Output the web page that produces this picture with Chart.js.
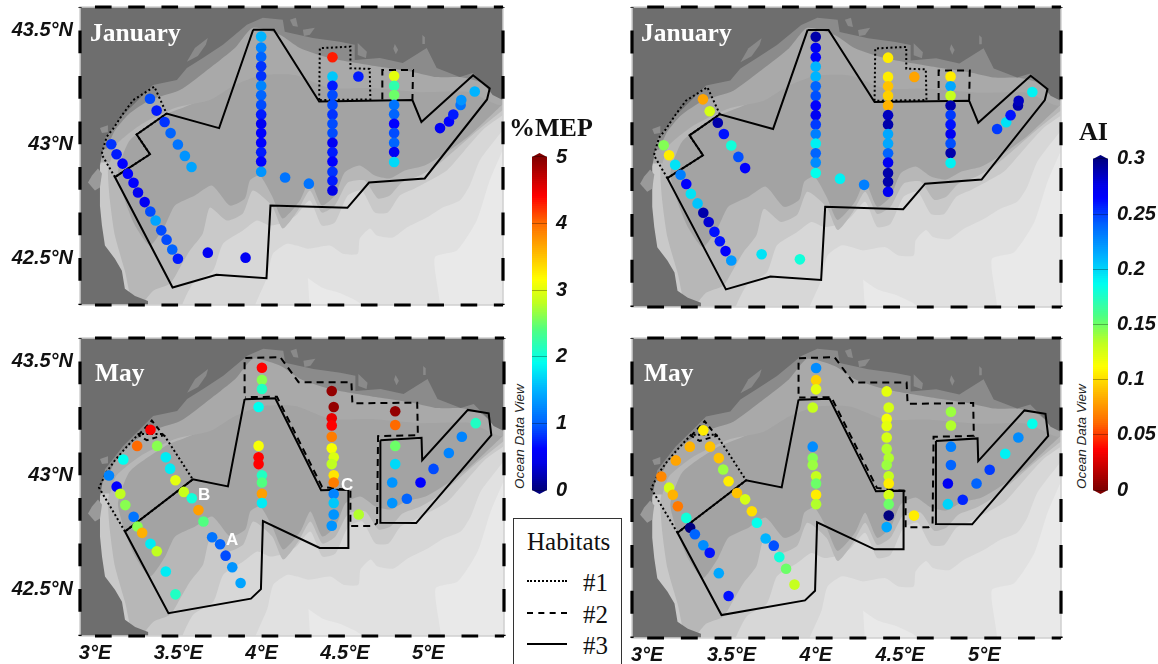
<!DOCTYPE html>
<html>
<head>
<meta charset="utf-8">
<script src="https://cdn.jsdelivr.net/npm/chart.js@4"></script>
<style>
html,body{margin:0;padding:0;background:#fff;width:1158px;height:664px;overflow:hidden}
canvas{position:absolute}
.t{position:absolute;white-space:nowrap;line-height:1}
.m{font:bold 25.5px "Liberation Serif",serif;color:#fff}
.h{font:bold 26px "Liberation Serif",serif;color:#111}
.l{font:bold 17px "Liberation Sans",sans-serif;color:#fff}
.o{font:italic 13.5px "Liberation Sans",sans-serif;color:#222;transform-origin:0 0;transform:rotate(-90deg)}
#box{position:absolute;left:513px;top:518px;width:109px;height:150px;border:1.5px solid #333;box-sizing:border-box}
.s{font:25px "Liberation Serif",serif;color:#111}
.k{position:absolute;left:527px;width:40px;height:0;border-top-color:#000}
</style>
</head>
<body>
<div id="box"></div>
<div class="t s" style="left:527px;top:528px">Habitats</div>
<div class="k" style="top:580px;border-top:2px dotted #000"></div><div class="t s" style="left:583px;top:569px">#1</div>
<div class="k" style="top:612px;border-top:2px dashed #000"></div><div class="t s" style="left:583px;top:601px">#2</div>
<div class="k" style="top:643px;border-top:2px solid #000"></div><div class="t s" style="left:583px;top:632px">#3</div>
<script>
// ---- value ranges and tick labels
const lonRange = [2.91, 5.455];
const latRange = [42.294, 43.603];
const lonTicks = [3, 3.5, 4, 4.5, 5];
const latTicks = [42.5, 43, 43.5];
const mepTicks = [0, 1, 2, 3, 4, 5];
const aiTicks = [0, 0.05, 0.1, 0.15, 0.2, 0.25, 0.3];

// ---- January stations
const janLon = [3.331,3.371,3.419,3.455,3.499,3.541,3.581,
 3.098,3.130,3.166,3.198,3.232,3.259,3.299,3.333,3.365,3.399,3.431,3.465,3.499,3.679,3.906,
 4,4,4,4,4,4,4,4,4,4,4,4,4,4,4,4.144,4.287,
 4.429,4.429,4.429,4.429,4.429,4.429,4.429,4.429,4.429,4.429,4.429,4.429,4.429,4.429,4.585,
 4.8,4.8,4.8,4.8,4.8,4.8,4.8,4.8,4.8,4.8,
 5.076,5.13,5.156,5.2,5.204,5.285];
const janLat = [43.2,43.148,43.098,43.049,42.999,42.949,42.9,
 43,42.956,42.915,42.871,42.831,42.788,42.746,42.705,42.665,42.622,42.581,42.538,42.497,42.524,42.502,
 43.473,43.425,43.384,43.343,43.3,43.257,43.215,43.173,43.131,43.09,43.049,43.007,42.965,42.924,42.879,42.854,42.827,
 43.382,43.298,43.257,43.216,43.173,43.131,43.09,43.049,43.007,42.965,42.924,42.879,42.84,42.797,43.298,
 43.3,43.257,43.216,43.173,43.132,43.09,43.049,43.007,42.966,42.922,
 43.071,43.1,43.131,43.173,43.194,43.232];
const janMEP = [0.9,0.7,0.8,1,1.1,1.3,1.4,
 0.8,0.7,0.6,0.6,0.6,0.5,0.5,0.9,1.4,0.9,0.9,1,0.7,0.5,0.5,
 1.5,1.2,1,0.8,0.8,1.2,1,0.9,0.7,0.5,0.6,0.6,0.7,0.6,1.3,1.1,1.1,
 4.3,1.6,0.7,0.9,0.9,0.8,0.9,0.9,0.5,0.7,0.6,0.8,0.7,0.4,0.7,
 3,2.2,2.5,1.1,1,0.6,0.9,1,0.5,1.7,
 0.5,0.6,0.7,1.1,1.3,1.5];
const janAI = [0.08,0.125,0.29,0.26,0.18,0.245,0.265,
 0.145,0.105,0.195,0.23,0.265,0.195,0.205,0.29,0.28,0.26,0.26,0.265,0.22,0.195,0.18,
 0.29,0.27,0.265,0.21,0.21,0.24,0.245,0.265,0.27,0.25,0.23,0.19,0.24,0.225,0.185,0.19,0.23,
 0.105,0.105,0.09,0.095,0.085,0.285,0.29,0.215,0.215,0.24,0.27,0.29,0.29,0.27,0.08,
 0.105,0.215,0.13,0.29,0.25,0.26,0.27,0.245,0.29,0.19,
 0.25,0.195,0.26,0.29,0.285,0.19];

// ---- May stations
const mayLon = [3.333,3.253,3.17,3.084,3.13,3.152,3.182,3.232,3.255,3.283,3.333,3.371,3.425,3.483,
 3.373,3.425,3.451,3.483,3.533,3.581,3.621,3.651,3.703,3.751,3.784,3.824,3.874,
 4.002,4.002,4.002,3.982,3.982,3.982,3.982,4.002,4.002,4.002,4.002,
 4.421,4.433,4.421,4.421,4.421,4.421,4.433,4.421,4.433,4.433,4.433,4.433,4.433,4.421,4.583,
 4.802,4.802,4.802,4.802,4.784,4.784,4.872,4.954,5.032,5.124,5.202,5.285];
const mayLat = [43.2,43.129,43.069,42.999,42.95,42.919,42.869,42.818,42.775,42.747,42.699,42.666,42.577,42.477,
 43.129,43.079,43.029,42.978,42.927,42.899,42.847,42.797,42.728,42.697,42.647,42.596,42.527,
 43.472,43.419,43.379,43.3,43.129,43.079,43.049,43,42.968,42.919,42.878,
 43.37,43.3,43.25,43.219,43.169,43.119,43.079,43.049,43,42.968,42.918,42.878,42.828,42.778,42.828,
 43.281,43.221,43.129,43.049,42.968,42.878,42.897,42.968,43.028,43.098,43.169,43.229];
const mayMEP = [4.4,4,1.9,1.2,0.6,2.8,2.6,1.1,2.6,3.6,1.8,2.8,1.8,2.1,
 2.6,1.8,1.8,3,2.85,2,3.7,2.4,1.1,1,0.9,1.3,1.4,
 4.4,2.6,2.1,1.9,3.1,4.4,4.4,2.1,2.4,3.7,1.8,
 4.9,4.9,4.5,4.4,3.9,3.1,2.95,2.8,3.3,3.9,1.2,1.6,1.3,1.3,2.75,
 4.9,4,2.5,1.7,1.3,1.3,1,0.6,0.9,1.2,1.2,2.1];
const mayAI = [0.105,0.085,0.08,0.07,0.125,0.085,0.065,0.18,0.3,0.24,0.225,0.26,0.215,0.26,
 0.09,0.09,0.14,0.105,0.09,0.125,0.1,0.185,0.21,0.245,0.18,0.15,0.13,
 0.225,0.095,0.12,0.13,0.225,0.145,0.14,0.13,0.15,0.105,0.135,
 0.12,0.125,0.115,0.12,0.125,0.135,0.135,0.14,0.13,0.105,0.125,0.15,0.3,0.215,0.105,
 0.14,0.135,0.23,0.24,0.27,0.2,0.255,0.24,0.25,0.19,0.225,0.185];

// ---- habitat outlines [lon, lat]
const janHab3 = [[3.952,43.503],[4.076,43.503],[4.349,43.188],[4.91,43.194],[4.964,43.098],[5.275,43.303],[5.375,43.245],[5.359,43.197],[4.984,42.85],[4.649,42.832],[4.519,42.721],[4.056,42.731],[4.032,42.412],[3.731,42.427],[3.467,42.371],[3.12,42.856],[3.331,42.956],[3.251,43.043],[3.431,43.135],[3.747,43.071],[3.952,43.503]];
const janHab1a = [[3.12,42.856],[3.04,42.956],[3.07,43.032],[3.11,43.069],[3.17,43.135],[3.23,43.194],[3.357,43.253],[3.431,43.135],[3.251,43.043],[3.331,42.956],[3.12,42.856]];
const janHab1b = [[4.349,43.194],[4.353,43.422],[4.537,43.429],[4.537,43.334],[4.653,43.331],[4.657,43.197],[4.349,43.194]];
const janHab2 = [[4.729,43.197],[4.729,43.326],[4.914,43.326],[4.91,43.197]];
const mayHab3a = [[3.898,43.334],[4.082,43.338],[4.357,42.934],[4.521,42.937],[4.521,42.681],[4.349,42.681],[4.008,42.799],[3.996,42.5],[3.936,42.458],[3.441,42.394],[3.18,42.753],[3.587,42.982],[3.798,42.951],[3.898,43.334]];
const mayHab3b = [[4.713,43.154],[4.96,43.165],[4.964,43.066],[5.238,43.287],[5.363,43.272],[5.379,43.176],[4.928,42.79],[4.713,42.791],[4.713,43.154]];
const mayHab1 = [[3.18,42.753],[3.024,42.946],[3.07,43.015],[3.12,43.066],[3.19,43.125],[3.261,43.181],[3.411,43.181],[3.587,42.982],[3.18,42.753]];
const mayHab2a = [[3.898,43.36],[3.898,43.515],[4.112,43.519],[4.222,43.409],[4.539,43.409],[4.545,43.316],[4.934,43.319],[4.938,43.176],[4.699,43.172],[4.693,42.79],[4.669,42.777],[4.533,42.777],[4.533,42.934],[4.363,42.949],[4.092,43.345],[3.902,43.343]];
const mayHab2b = [[3.261,43.176],[3.341,43.24],[3.411,43.176],[3.311,43.154],[3.261,43.176]];

// ---- bathymetry and coast outlines [lon, lat]
const seaBase = [[2.8,42.2],[5.6,42.2],[5.6,43.7],[2.8,43.7]];
const depth1 = [[5.453,42.974],[5.375,42.841],[5.297,42.665],[5.177,42.533],[5.044,42.502],[5.056,42.2],[2.8,42.2],[2.8,43.7],[5.6,43.7],[5.6,42.974]];
const depth1b = [[4.281,42.413],[4.371,42.369],[4.473,42.347],[4.593,42.303],[4.593,42.268],[4.293,42.268]];
const depth2 = [[5.453,43.062],[5.315,42.929],[5.255,42.819],[5.195,42.753],[5.093,42.722],[4.996,42.678],[4.876,42.634],[4.792,42.59],[4.696,42.599],[4.654,42.63],[4.593,42.585],[4.581,42.519],[4.491,42.519],[4.413,42.555],[4.281,42.541],[4.215,42.555],[4.155,42.563],[4.07,42.519],[4.034,42.413],[3.95,42.268],[3.95,42.2],[2.8,42.2],[2.8,43.7],[5.6,43.7],[5.6,43.062]];
const depth3 = [[5.453,43.128],[5.345,43.071],[5.225,42.974],[5.117,42.885],[5.014,42.841],[4.924,42.806],[4.834,42.775],[4.762,42.7],[4.684,42.7],[4.605,42.797],[4.521,42.775],[4.443,42.656],[4.365,42.643],[4.293,42.753],[4.209,42.687],[4.142,42.656],[4.052,42.643],[3.974,42.665],[3.89,42.621],[3.77,42.563],[3.71,42.444],[3.589,42.387],[3.511,42.268],[3.511,42.2],[2.8,42.2],[2.8,43.7],[5.6,43.7],[5.6,43.128]];
const depth4 = [[5.453,43.15],[5.303,43.062],[5.165,42.974],[5.056,42.907],[4.954,42.863],[4.846,42.832],[4.774,42.775],[4.702,42.762],[4.623,42.841],[4.521,42.832],[4.443,42.731],[4.365,42.7],[4.293,42.797],[4.221,42.709],[4.13,42.63],[4.064,42.731],[3.95,42.797],[3.89,42.696],[3.794,42.665],[3.692,42.722],[3.649,42.608],[3.571,42.533],[3.511,42.458],[3.451,42.387],[3.349,42.356],[3.241,42.268],[3.18,42.444],[3.12,42.599],[3.09,42.753],[3.078,42.885],[3.102,43.018],[3.03,43.06],[3.03,43.7],[5.6,43.7],[5.6,43.15]];
const depth5 = [[5.453,43.176],[5.255,43.04],[5.117,42.965],[4.984,42.907],[4.864,42.885],[4.774,42.85],[4.684,42.863],[4.593,42.907],[4.503,42.877],[4.443,42.775],[4.365,42.731],[4.293,42.841],[4.233,42.753],[4.13,42.674],[4.064,42.775],[3.992,42.863],[3.932,42.841],[3.902,42.762],[3.812,42.731],[3.704,42.819],[3.601,42.775],[3.481,42.731],[3.421,42.643],[3.331,42.555],[3.241,42.643],[3.18,42.753],[3.138,42.877],[3.21,43.018],[3.421,43.128],[3.661,43.216],[3.661,43.7],[5.6,43.7],[5.6,43.176]];
const depth6 = [[3.09,42.92],[3.13,43],[3.271,43.084],[3.481,43.159],[3.692,43.194],[3.842,43.26],[4.004,43.304],[4.203,43.304],[4.413,43.247],[4.654,43.247],[4.954,43.229],[5.255,43.229],[5.453,43.176],[5.6,43.7],[3,43.7],[3,42.92]];
const depth7 = [[3.07,42.98],[3.12,43.06],[3.2,43.13],[3.331,43.194],[3.511,43.238],[3.661,43.318],[3.842,43.423],[3.95,43.512],[4.112,43.481],[4.233,43.423],[4.413,43.379],[4.714,43.34],[4.912,43.318],[5.056,43.295],[5.195,43.295],[5.315,43.273],[5.435,43.203],[5.6,43.19],[5.6,43.7],[3,43.7],[3,42.98]];
const land = [[3.319,42.2],[3.319,42.312],[3.241,42.334],[3.18,42.365],[3.162,42.444],[3.12,42.497],[3.06,42.555],[3.042,42.643],[3.03,42.731],[3.03,42.907],[3.06,43.026],[3.168,43.128],[3.271,43.203],[3.349,43.26],[3.493,43.282],[3.553,43.335],[3.649,43.379],[3.77,43.437],[3.914,43.525],[4.01,43.556],[4.13,43.547],[4.142,43.494],[4.311,43.467],[4.473,43.45],[4.563,43.437],[4.563,43.37],[4.714,43.379],[4.852,43.357],[4.996,43.423],[5.056,43.335],[5.195,43.295],[5.273,43.313],[5.357,43.251],[5.393,43.216],[5.453,43.194],[5.6,43.19],[5.6,43.7],[2.8,43.7],[2.8,42.2]];
const capeA = [[2.958,42.832],[2.982,42.863],[3.018,42.894],[3.042,42.872],[3.03,42.81],[3,42.797]];
const capeB = [[3.03,43.071],[3.078,43.084],[3.078,43.053],[3.042,43.049]];
const lagoons = [
 [[3.553,43.362],[3.601,43.423],[3.679,43.467],[3.667,43.437],[3.619,43.388]],
 [[4.173,43.547],[4.209,43.556],[4.221,43.516],[4.191,43.52]],
 [[4.251,43.503],[4.323,43.512],[4.293,43.481],[4.257,43.476]],
 [[4.581,43.445],[4.636,43.406],[4.63,43.379],[4.581,43.392]],
 [[4.804,43.44],[4.824,43.415],[4.81,43.395],[4.795,43.42]],
 [[4.97,43.48],[4.985,43.47],[4.985,43.44],[4.97,43.44]]
];

// ---- colour scale
const rampStops = [[0,'#00007f'],[0.08,'#0000e6'],[0.12,'#0000ff'],[0.2,'#0064ff'],[0.3,'#00b4ff'],[0.38,'#00fff0'],[0.48,'#50ff80'],[0.56,'#c0ff20'],[0.63,'#ffff00'],[0.72,'#ffb000'],[0.8,'#ff6a00'],[0.88,'#ff0000'],[1,'#7f0000']];
function hex(c){return [1,3,5].map(i=>parseInt(c.substr(i,2),16));}
function ramp(t){
  t=Math.max(0,Math.min(1,t));
  for(let i=1;i<rampStops.length;i++){
    if(t<=rampStops[i][0]){
      const [a,ca]=rampStops[i-1],[b,cb]=rampStops[i];
      const f=(t-a)/(b-a),A=hex(ca),B=hex(cb);
      return 'rgb('+A.map((v,k)=>Math.round(v+(B[k]-v)*f)).join(',')+')';
    }
  }
  return rampStops[rampStops.length-1][1];
}
const mepColor=v=>ramp(v/5);
const aiColor=v=>ramp(1-v/0.3);

function pts(a){return a.map(p=>({x:p[0],y:p[1]}));}
function area(a,c,ten){return {type:'scatter',showLine:true,data:pts(a),backgroundColor:c,borderColor:c,borderWidth:0,pointRadius:0,fill:'shape',tension:ten||0};}
function hab(a,dash){return {type:'scatter',showLine:true,data:pts(a),borderColor:'#000',borderWidth:2,borderDash:dash,pointRadius:0,fill:false,tension:0};}

const framePlugin={id:'frame',afterDatasetsDraw(ch){
  const c=ch.ctx,A=ch.chartArea,X=ch.scales.x,Y=ch.scales.y;
  c.save();c.lineWidth=1.5;c.strokeStyle='#cfcfcf';c.strokeRect(A.left,A.top,A.right-A.left,A.bottom-A.top);
  c.strokeStyle='#000';c.lineWidth=3.2;c.beginPath();
  for(let k=30;k<55;k+=2){
    const a=X.getPixelForValue(k/10),b=Math.min(X.getPixelForValue((k+1)/10),A.right);
    if(a<A.right){c.moveTo(a,A.top);c.lineTo(b,A.top);c.moveTo(a,A.bottom);c.lineTo(b,A.bottom);}
  }
  for(let k=422;k<437;k+=2){
    const a=Math.min(Y.getPixelForValue(k/10),A.bottom),b=Math.max(Y.getPixelForValue((k+1)/10),A.top);
    if(b<A.bottom&&a>A.top){c.moveTo(A.left,a);c.lineTo(A.left,b);c.moveTo(A.right,a);c.lineTo(A.right,b);}
  }
  c.stroke();c.restore();
}};

function mapChart(o){
  const cv=document.createElement('canvas');
  cv.width=o.w;cv.height=o.h;cv.style.left=o.x+'px';cv.style.top=o.y+'px';cv.style.width=o.w+'px';cv.style.height=o.h+'px';
  document.body.appendChild(cv);
  const T=0.2;
  const ds=[area(seaBase,'#e9e9e9'),area(depth1,'#e1e1e1',T),area(depth1b,'#e9e9e9',T),area(depth2,'#d7d7d7',T),area(depth3,'#c9c9c9',T),area(depth4,'#b7b7b7',T),area(depth5,'#a3a3a3',T),area(depth6,'#a9a9a9',T),area(depth7,'#8b8b8b',T),area(land,'#6e6e6e'),area(capeA,'#9a9a9a'),area(capeB,'#8f8f8f')];
  lagoons.forEach(l=>ds.push(area(l,'#8a8a8a')));
  o.habs.forEach(h=>ds.push(hab(h[0],h[1])));
  ds.push({type:'scatter',data:o.lon.map((v,i)=>({x:v,y:o.lat[i]})),backgroundColor:o.val.map(o.col),borderWidth:0,pointRadius:5.3,showLine:false});
  ds.forEach((d,i)=>{d.order=ds.length-i;});
  const font={family:'"Liberation Sans",sans-serif',size:20,weight:'bold',style:'italic'};
  new Chart(cv,{type:'scatter',data:{datasets:ds},plugins:[framePlugin],options:{
    responsive:false,animation:false,
    layout:{padding:o.pad},
    plugins:{legend:{display:false},tooltip:{enabled:false}},
    scales:{
      x:{type:'linear',min:lonRange[0],max:lonRange[1],grid:{display:false,drawTicks:false},border:{display:false},
        afterBuildTicks:a=>{a.ticks=lonTicks.map(v=>({value:v}));},
        ticks:{display:o.xLabels,color:'#111',font,padding:5,maxRotation:0,autoSkip:false,callback:v=>v+'°E'},
        afterFit:s=>{s.height=o.xh;s.paddingLeft=0;s.paddingRight=0;}},
      y:{type:'linear',min:latRange[0],max:latRange[1],grid:{display:false,drawTicks:false},border:{display:false},
        afterBuildTicks:a=>{a.ticks=latTicks.map(v=>({value:v}));},
        ticks:{display:o.yLabels,color:'#111',font,padding:7,autoSkip:false,callback:v=>v+'°N'},
        afterFit:s=>{s.width=o.yw;s.paddingTop=0;s.paddingBottom=0;}}
    }
  }});
}

const janHabs=[[janHab1a,[2,2.5]],[janHab1b,[2,2.5]],[janHab2,[7,5]],[janHab3,[]]];
const mayHabs=[[mayHab1,[2,2.5]],[mayHab2a,[7,5]],[mayHab2b,[5,4]],[mayHab3a,[]],[mayHab3b,[]]];
mapChart({x:0,y:0,w:510,h:312,pad:{top:7,right:7,bottom:7,left:0},xh:0,yw:80,xLabels:false,yLabels:true,lon:janLon,lat:janLat,val:janMEP,col:mepColor,habs:janHabs});
mapChart({x:0,y:330,w:510,h:334,pad:{top:8,right:6,bottom:0,left:0},xh:28,yw:80,xLabels:true,yLabels:true,lon:mayLon,lat:mayLat,val:mayMEP,col:mepColor,habs:mayHabs});
mapChart({x:622,y:0,w:449,h:314,pad:{top:7,right:10,bottom:7,left:10},xh:0,yw:0,xLabels:false,yLabels:false,lon:janLon,lat:janLat,val:janAI,col:aiColor,habs:janHabs});
mapChart({x:622,y:330,w:449,h:334,pad:{top:8,right:10,bottom:0,left:10},xh:26,yw:0,xLabels:true,yLabels:false,lon:mayLon,lat:mayLat,val:mayAI,col:aiColor,habs:mayHabs});

function barChart(o){
  const cv=document.createElement('canvas');
  cv.width=o.w;cv.height=o.h;cv.style.left=o.x+'px';cv.style.top=o.y+'px';cv.style.width=o.w+'px';cv.style.height=o.h+'px';
  document.body.appendChild(cv);
  const lo=o.ticks[0],hi=o.ticks[o.ticks.length-1],tip=(hi-lo)*0.012,N=160,d=(hi-lo)/N;
  const ds=[area([[0,lo],[0.5,lo-tip],[1,lo]],o.col(lo)),area([[0,hi],[0.5,hi+tip],[1,hi]],o.col(hi))];
  for(let i=0;i<N;i++){
    const a=lo+i*d,b=Math.min(hi,a+d*1.4);
    ds.push(area([[0,a],[1,a],[1,b],[0,b]],o.col(a+d/2)));
  }
  ds.forEach((s,i)=>{s.order=i;});
  new Chart(cv,{type:'scatter',data:{datasets:ds},options:{responsive:false,animation:false,layout:{padding:{top:14,bottom:14,left:0,right:0}},
    plugins:{legend:{display:false},tooltip:{enabled:false}},
    scales:{
      x:{type:'linear',display:false,min:0,max:1},
      y:{type:'linear',position:'right',min:lo-tip,max:hi+tip,border:{display:false},
        grid:{display:true,drawOnChartArea:true,drawTicks:false,z:1,color:'rgba(0,0,0,0.3)',lineWidth:1},
        afterBuildTicks:a=>{a.ticks=o.ticks.map(v=>({value:v}));},
        ticks:{color:'#111',padding:9,autoSkip:false,font:{family:'"Liberation Sans",sans-serif',size:20,weight:'bold',style:'italic'},callback:v=>String(v)},
        afterFit:s=>{s.width=o.w-o.bw;s.paddingTop=0;s.paddingBottom=0;}}
    }}});
}
barChart({x:532,y:139,w:62,h:369,bw:15,ticks:mepTicks,col:mepColor});
barChart({x:1093,y:141,w:65,h:367,bw:15,ticks:aiTicks,col:aiColor});

function label(cls,text,x,y){const d=document.createElement('div');d.className='t '+cls;d.textContent=text;d.style.left=x+'px';d.style.top=y+'px';document.body.appendChild(d);}
label('m','January',90,18);label('m','January',641,18);label('m','May',95,358);label('m','May',644,358);
label('l','A',226,530);label('l','B',198,485);label('l','C',341,475);
label('h','%MEP',509,113);label('h','AI',1079,117);
label('o','Ocean Data View',512,489);label('o','Ocean Data View',1074,489);
</script>
</body>
</html>
